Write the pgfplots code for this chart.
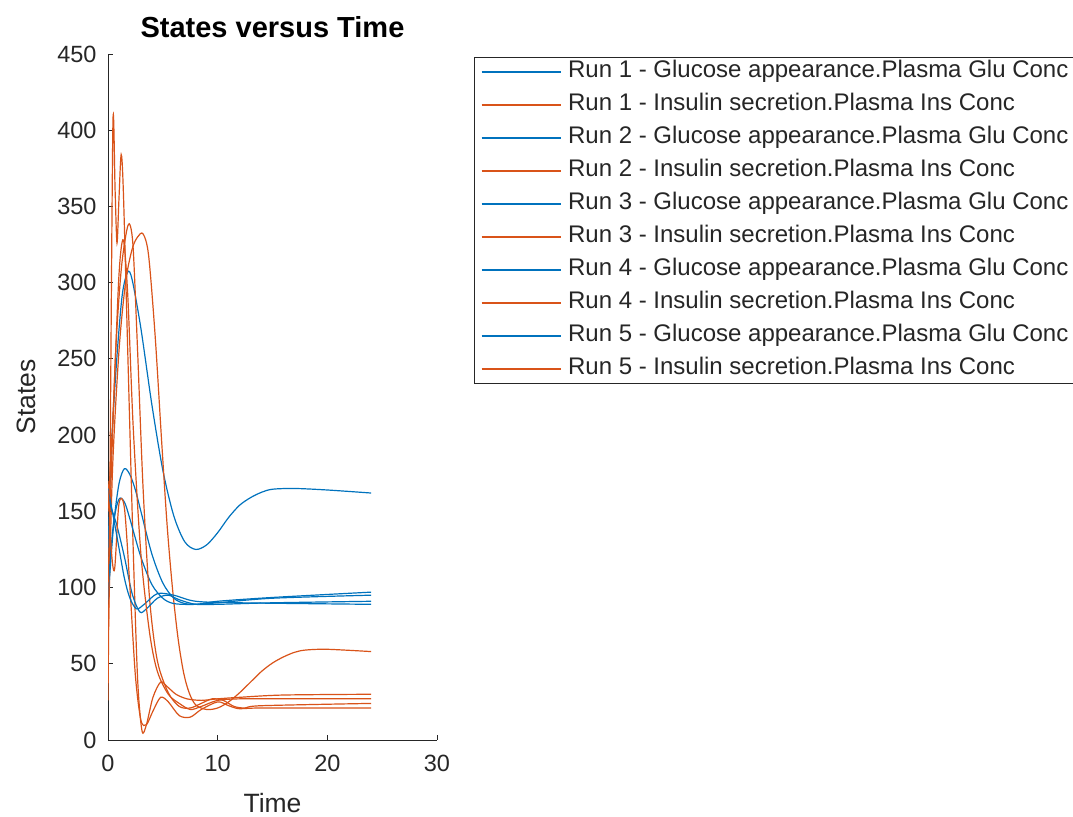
\documentclass[border=0pt]{standalone}
\usepackage{pgfplots}
\pgfplotsset{compat=1.18}
\usepackage{fontspec}
\setmainfont{Liberation Sans}
\definecolor{mblue}{rgb}{0,0.447,0.741}
\definecolor{morange}{rgb}{0.85,0.325,0.098}
\definecolor{axgray}{rgb}{0.15,0.15,0.15}
\begin{document}
\begin{tikzpicture}
\path[use as bounding box] (0,0) rectangle (1073bp,817bp);
\begin{axis}[
  at={(108bp,77bp)}, anchor=south west,
  width=329bp, height=686bp, scale only axis,
  xmin=0, xmax=30, ymin=0, ymax=450,
  xtick={0,10,20,30}, ytick={0,50,...,450},
  axis lines*=left,
  axis line style={axgray, line width=1pt, -},
  tick align=inside,
  major tick length=5bp,
  tick style={axgray, line width=0.8pt},
  /pgf/number format/assume math mode=true,
  ticklabel style={font=\fontsize{23.5bp}{27bp}\selectfont, text=axgray},
  yticklabel style={xshift=-8bp},
  xticklabel style={yshift=-12bp},
  title={\textbf{States versus Time}},
  title style={at={(axis description cs:0.5,1.031)}, anchor=center, font=\fontsize{29bp}{33bp}\selectfont},
  xlabel={Time},
  xlabel style={at={(axis description cs:0.5,-0.092)}, anchor=center, font=\fontsize{26.5bp}{30bp}\selectfont, text=axgray},
  ylabel={States},
  ylabel style={at={(axis description cs:-0.247,0.5)}, anchor=center, rotate=0, font=\fontsize{26.5bp}{30bp}\selectfont, text=axgray},
  legend image code/.code={\draw[#1] (0bp,0bp) -- (79bp,0bp);},
  legend style={
    at={(axis description cs:1.1125,0.9956)}, anchor=north west,
    draw=axgray, line width=0.8pt,
    font=\fontsize{24bp}{28bp}\selectfont,
    text=axgray,
    inner xsep=6.5bp, inner ysep=3.5bp,
    row sep=11bp, column sep=7bp,
    nodes={inner sep=0pt, text height=17bp, text depth=5bp},
    cells={anchor=west},
  },
  every axis plot/.append style={line width=1.2pt, smooth},
]
% Run 1 glucose
\addplot[mblue] coordinates {(0,120) (0.3,190) (0.8,250) (1.3,292) (1.8,307) (2.2,302) (3,270) (4,220) (5,177) (6,147) (7,130) (8,125) (9,128) (10,136) (11,146) (12,154) (13,159) (14,162.5) (15,164.5) (17,165) (20,164) (24,162)};
% Run 1 insulin
\addplot[morange] coordinates {(0,60) (0.4,175) (1,255) (1.6,300) (2.2,322) (2.7,330) (3.2,332) (3.7,318) (4.3,265) (4.9,195) (5.4,140) (5.9,98) (6.4,66) (6.9,44) (7.4,31) (8,23) (9,20) (10,21) (11,25) (12,31) (13,38) (14,45) (15,50.5) (16,54.5) (17,57.5) (18,59) (20,59.5) (24,58)};
% Run 2 glucose
\addplot[mblue] coordinates {(0,92) (0.5,140) (1,168) (1.5,178) (2,174) (2.5,164) (3,150) (4,122) (5,103) (6,93) (7,89.5) (8,89) (10,90) (15,93) (24,95)};
% Run 2 insulin
\addplot[morange] coordinates {(0,26) (0.2,190) (0.45,405) (0.65,360) (0.82,326) (1.0,355) (1.2,384) (1.4,360) (1.8,255) (2.3,125) (2.7,40) (3.1,6) (3.5,10) (4.1,28) (4.8,38) (5.4,35) (6.2,30) (7.2,27) (8.5,26) (10,27) (12,28) (16,29.5) (24,30)};
% Run 3 glucose
\addplot[mblue] coordinates {(0,100) (0.5,142) (1,158) (1.5,156) (2,145) (3,120) (4,102) (5,93) (6,89.5) (8,89) (10,91) (15,93.5) (24,97)};
% Run 3 insulin
\addplot[morange] coordinates {(0,100) (0.3,175) (0.7,255) (1.2,308) (1.7,334) (2.0,338) (2.3,322) (2.7,255) (3.2,165) (3.8,92) (4.5,52) (5.5,31) (6.5,22) (7.5,21) (8.5,24) (9.5,27) (10.5,26) (11.5,22) (12.5,21) (14,22.5) (24,24)};
% Run 4 glucose
\addplot[mblue] coordinates {(0,160) (0.3,152) (0.8,141) (1.5,120) (2.2,96) (2.9,84) (3.5,86) (4.5,93) (5.5,95) (6.5,92) (8,89) (10,89) (15,90) (24,91)};
% Run 4 insulin
\addplot[morange] coordinates {(0,170) (0.3,125) (0.6,112) (1,155) (1.5,152) (2,100) (2.5,42) (3,13) (3.5,10) (4.1,19) (4.8,28) (5.5,25) (6.5,16) (7.5,15) (8.5,20) (10,25) (11,22.5) (12,20.5) (14,21) (24,21)};
% Run 5 glucose
\addplot[mblue] coordinates {(0,165) (0.5,146) (1,126) (1.5,106) (2,93) (2.6,86) (3.3,89) (4.5,96) (6,95) (8,91) (12,90) (24,89)};
% Run 5 insulin
\addplot[morange] coordinates {(0,150) (0.5,220) (1,305) (1.4,328) (1.8,292) (2.3,205) (3,122) (3.8,70) (4.5,45) (5.5,30) (6.5,24) (7.5,20) (8.5,22) (10,26) (12,27) (16,27) (24,27)};
\legend{Run 1 - Glucose appearance.Plasma Glu Conc,
Run 1 - Insulin secretion.Plasma Ins Conc,
Run 2 - Glucose appearance.Plasma Glu Conc,
Run 2 - Insulin secretion.Plasma Ins Conc,
Run 3 - Glucose appearance.Plasma Glu Conc,
Run 3 - Insulin secretion.Plasma Ins Conc,
Run 4 - Glucose appearance.Plasma Glu Conc,
Run 4 - Insulin secretion.Plasma Ins Conc,
Run 5 - Glucose appearance.Plasma Glu Conc,
Run 5 - Insulin secretion.Plasma Ins Conc}
\end{axis}
\end{tikzpicture}
\end{document}
